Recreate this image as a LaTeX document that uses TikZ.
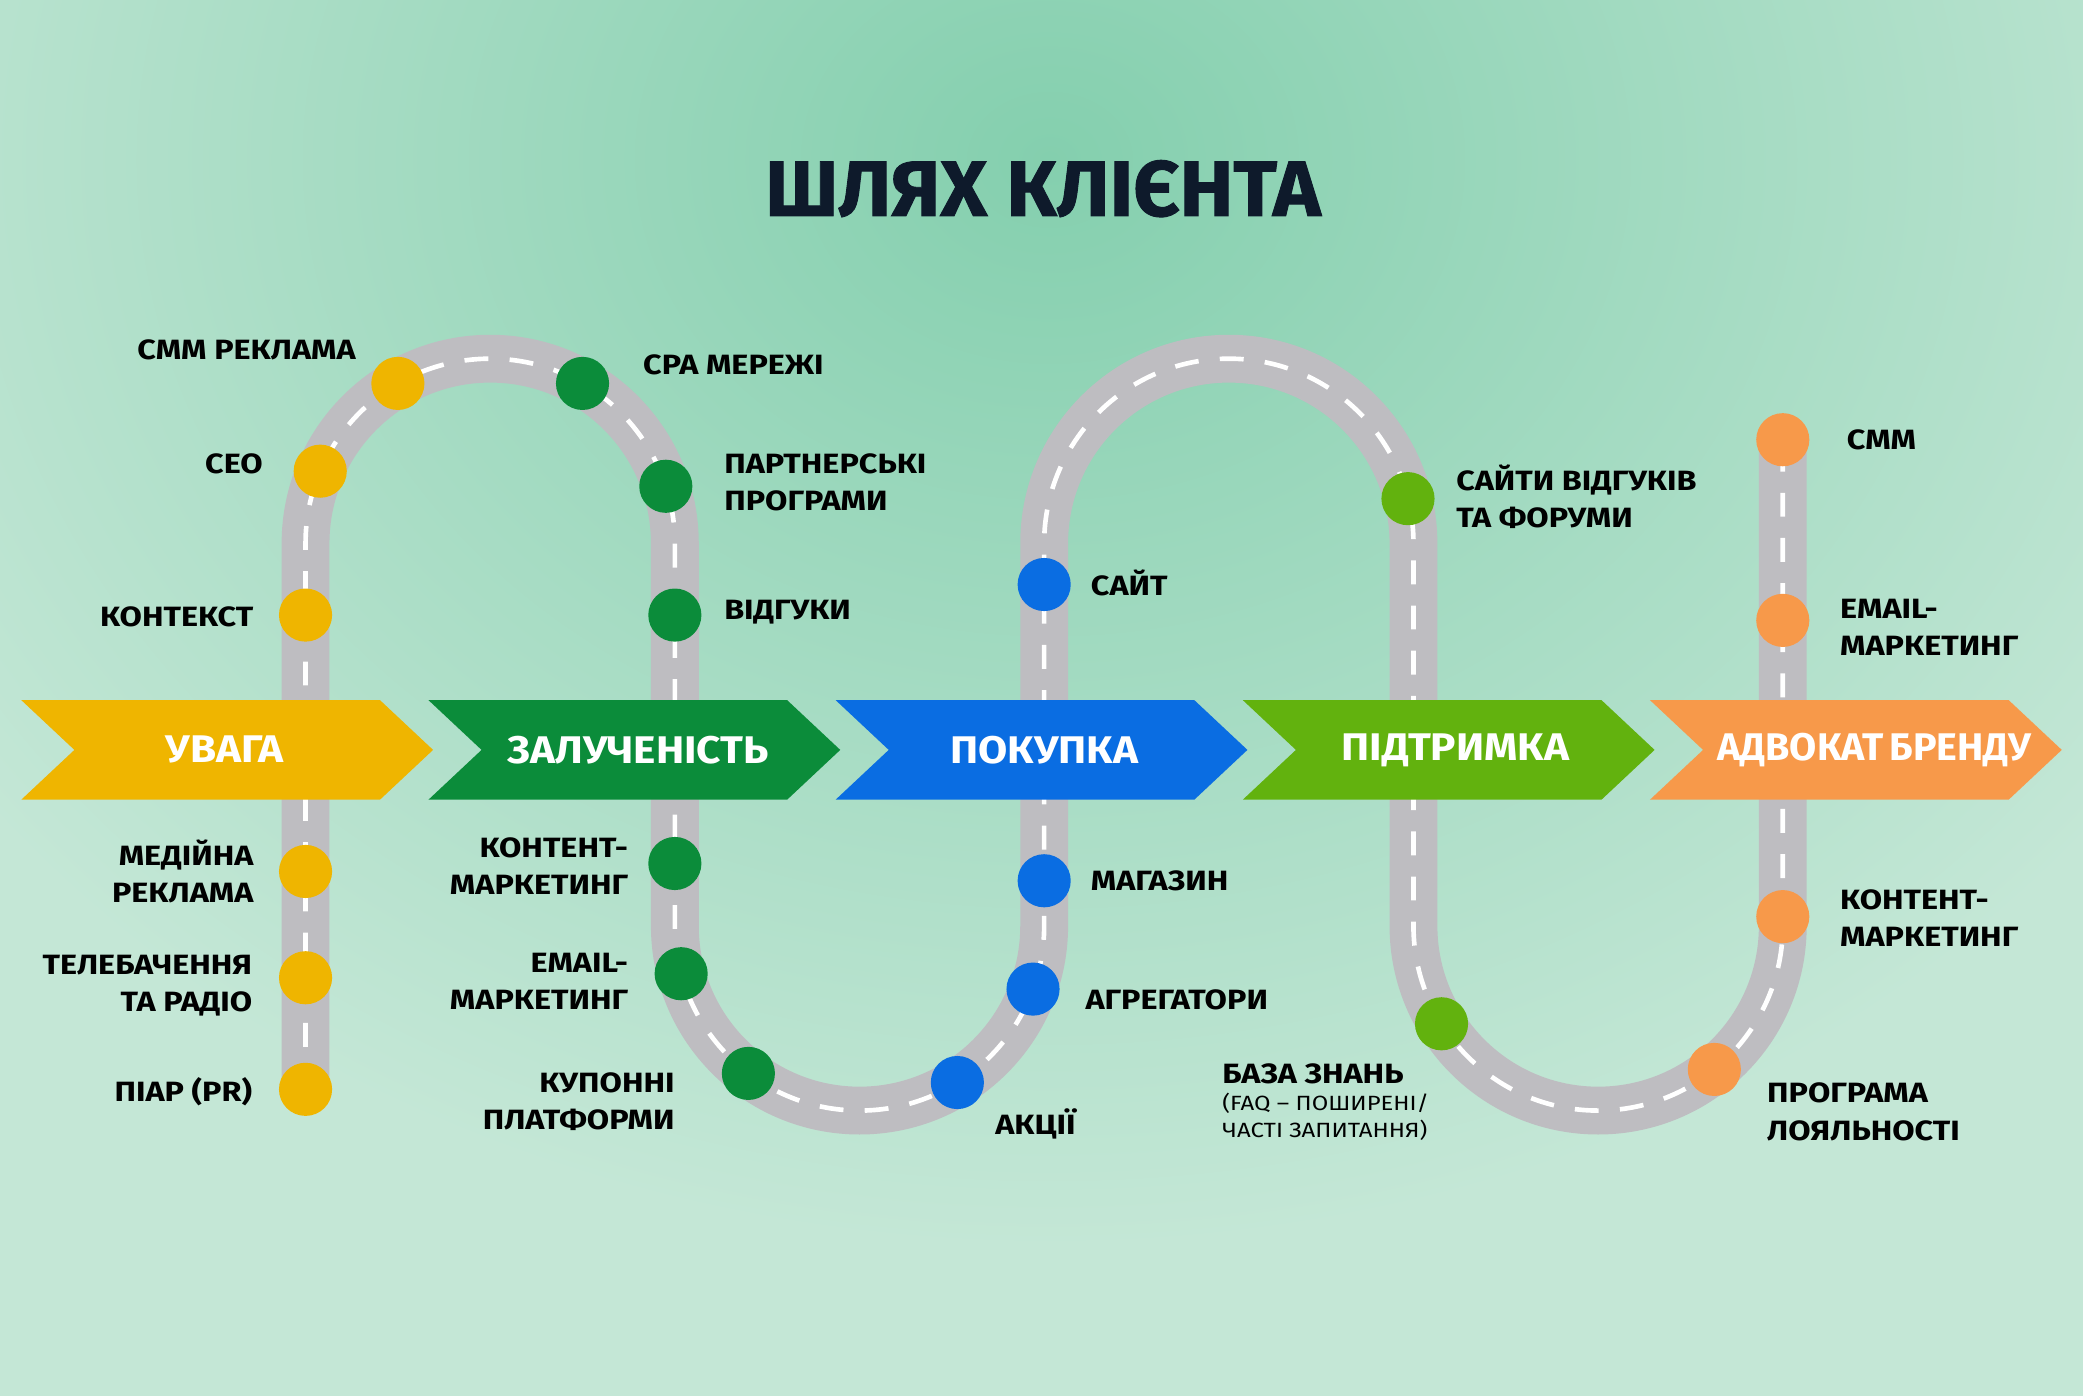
\documentclass[tikz,border=0pt]{standalone}
\usepackage{fontspec}
\setmainfont{Fira Sans}
\newfontfamily\lblfont[FakeStretch=1.16]{Fira Sans}
\newfontfamily\stagefont[FakeStretch=1.1]{Fira Sans}
\newfontfamily\titlefont[FakeBold=1.2,FakeStretch=1.03]{Fira Sans}
\usetikzlibrary{calc,positioning}

\definecolor{bglight}{HTML}{C4E7D6}
\definecolor{bgdark}{HTML}{84CFAE}
\definecolor{titlecol}{HTML}{0E1A2B}
\definecolor{roadgrey}{HTML}{BEBDC1}
\definecolor{cyel}{HTML}{EFB500}
\definecolor{cgrn}{HTML}{0B8C3A}
\definecolor{cblue}{HTML}{0A6DE2}
\definecolor{clgrn}{HTML}{62B20E}
\definecolor{corange}{HTML}{F7994A}

\begin{document}
\begin{tikzpicture}[x=1pt,y=1pt,
  road/.style={line width=36pt,draw=roadgrey},
  lane/.style={line width=3.5pt,draw=white,dash pattern=on 18pt off 16pt},
  dot/.style={circle,minimum size=40pt,inner sep=0pt,outer sep=0pt,fill=#1},
  lbl/.style={font=\lblfont\fontsize{21}{28}\selectfont\bfseries,text=black,inner sep=0pt,align=left},
  lblr/.style={lbl,align=right},
  stagetxt/.style={font=\stagefont\fontsize{29}{30}\selectfont\bfseries,text=white,inner sep=0pt}]

  % background
  \useasboundingbox (0,0) rectangle (1568,-1051);
  \fill[bglight] (0,0) rectangle (1568,-1051);
  \shade[inner color=bgdark,outer color=bglight] (790,-120) ellipse (1000 and 820);

  \node[font=\titlefont\fontsize{59}{60}\selectfont\bfseries,text=titlecol] (title) at (785,-142) {ШЛЯХ КЛІЄНТА};

  % the road
  \foreach \st in {road,lane}
    \draw[\st] (230,-822) -- (230,-409) arc(180:0:139) -- (508,-697) arc(180:360:139)
      -- (786,-409) arc(180:0:139) -- (1064,-697) arc(180:360:139) -- (1342,-330);

  % stages
  \foreach \i/\c/\t/\n/\dx in {0/cyel/УВАГА/uvaha/153,1/cgrn/ЗАЛУЧЕНІСТЬ/zaluch/158,2/cblue/ПОКУПКА/pokupka/157,
      3/clgrn/ПІДТРИМКА/pidtrymka/160,4/corange/{\scalebox{0.93}[1]{АДВОКАТ\hspace{-3pt} БРЕНДУ}}/advokat/169}{
    \pgfmathsetmacro{\xl}{16+306.5*\i}
    \fill[\c] (\xl,-527) -- ++(270,0) -- ++(40,-37.5) -- ++(-40,-37.5) -- ++(-270,0) -- ++(40,37.5) -- cycle;
    \node[stagetxt] (\n) at (\xl+\dx,-564.5) {\t};
  }

  % yellow points
  \node[dot=cyel] (smmrekl) at ([shift={(120:139)}]369,-409) {};
  \node[dot=cyel] (seo) at ([shift={(157:139)}]369,-409) {};
  \node[dot=cyel] (kontekst) at (230,-463) {};
  \node[dot=cyel] (media) at (230,-656) {};
  \node[dot=cyel] (tv) at (230,-736) {};
  \node[dot=cyel] (piar) at (230,-820) {};
  \node[lblr,anchor=east] at (268,-263) {СММ РЕКЛАМА};
  \node[lblr,anchor=east] at (198,-349) {СЕО};
  \node[lblr,anchor=east] at (191,-464) {КОНТЕКСТ};
  \node[lblr,anchor=east] at (191,-656) {МЕДІЙНА\\РЕКЛАМА};
  \node[lblr,anchor=east] at (190,-742) {ТЕЛЕБАЧЕННЯ\\ТА РАДІО};
  \node[lblr,anchor=east] at (190,-822) {ПІАР (PR)};

  % green points
  \node[dot=cgrn] (cpa) at ([shift={(60:139)}]369,-409) {};
  \node[dot=cgrn] (partner) at ([shift={(18:139)}]369,-409) {};
  \node[dot=cgrn] (vidguky) at (508,-463) {};
  \node[dot=cgrn] (kontent) at (508,-650) {};
  \node[dot=cgrn] (email) at ([shift={(195:139)}]647,-697) {};
  \node[dot=cgrn] (kupon) at ([shift={(233:139)}]647,-697) {};
  \node[lbl,anchor=west] at (484,-275) {СРА МЕРЕЖІ};
  \node[lbl,anchor=west] at (545,-363) {ПАРТНЕРСЬКІ\\ПРОГРАМИ};
  \node[lbl,anchor=west] at (545,-461) {ВІДГУКИ};
  \node[lblr,anchor=east] at (473,-652) {КОНТЕНТ-\\МАРКЕТИНГ};
  \node[lblr,anchor=east] at (473,-739) {EMAIL-\\МАРКЕТИНГ};
  \node[lblr,anchor=east] at (508,-829) {КУПОННІ\\ПЛАТФОРМИ};

  % blue points
  \node[dot=cblue] (sait) at (786,-440) {};
  \node[dot=cblue] (magazyn) at (786,-663) {};
  \node[dot=cblue] (agreg) at ([shift={(340:139)}]647,-697) {};
  \node[dot=cblue] (akcii) at ([shift={(302:139)}]647,-697) {};
  \node[lbl,anchor=west] at (821,-439) {САЙТ};
  \node[lbl,anchor=west] at (821,-663) {МАГАЗИН};
  \node[lbl,anchor=west] at (817,-753) {АГРЕГАТОРИ};
  \node[lbl,anchor=west] at (749,-846) {АКЦІЇ};

  % light green points
  \node[dot=clgrn] (forumy) at ([shift={(14:139)}]925,-409) {};
  \node[dot=clgrn] (baza) at ([shift={(212:139)}]1203,-697) {};
  \node[lbl,anchor=west] at (1096,-374) {САЙТИ ВІДГУКІВ\\ТА ФОРУМИ};
  \node[lbl,anchor=west] (bazatxt) at (920,-808) {БАЗА ЗНАНЬ};
  \node[font=\lblfont\fontsize{15.5}{20}\selectfont,inner sep=0pt,align=left,below=7pt of bazatxt.south west,anchor=north west] {(FAQ – ПОШИРЕНІ/\\ЧАСТІ ЗАПИТАННЯ)};

  % orange points
  \node[dot=corange] (smm) at (1342,-331) {};
  \node[dot=corange] (email2) at (1342,-467) {};
  \node[dot=corange] (kontent2) at (1342,-690) {};
  \node[dot=corange] (loyal) at ([shift={(309:139)}]1203,-697) {};
  \node[lbl,anchor=west] at (1390,-331) {СММ};
  \node[lbl,anchor=west] at (1385,-472) {EMAIL-\\МАРКЕТИНГ};
  \node[lbl,anchor=west] at (1385,-691) {КОНТЕНТ-\\МАРКЕТИНГ};
  \node[lbl,anchor=west] at (1330,-837) {ПРОГРАМА\\ЛОЯЛЬНОСТІ};
\end{tikzpicture}
\end{document}
